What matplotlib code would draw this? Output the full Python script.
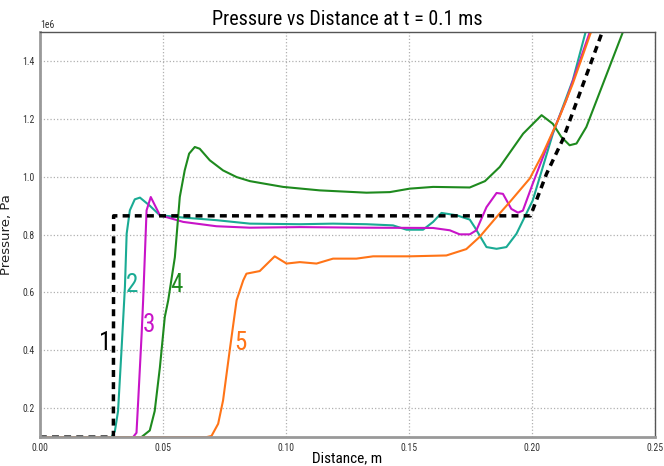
import matplotlib
matplotlib.use("Agg")
import matplotlib.pyplot as plt
import numpy as np

# distance in m, pressure in 1e6 Pa
x1 = [0.0, 0.0299, 0.0300, 0.1995, 0.2060, 0.2127, 0.2295]
p1 = [0.1, 0.1, 0.865, 0.865, 1.01, 1.13, 1.52]

x2 = [0.0, 0.0291, 0.0305, 0.0318, 0.0332, 0.0346, 0.0353, 0.0366, 0.0386, 0.0407,
      0.0447, 0.0488, 0.0583, 0.0718, 0.0854, 0.1057, 0.1192, 0.1328, 0.1436, 0.1491,
      0.1558, 0.1599, 0.1633, 0.1694, 0.1748, 0.1768, 0.1816, 0.1857, 0.1897, 0.1938,
      0.2004, 0.2086, 0.2167, 0.2222]
p2 = [0.1, 0.1, 0.12, 0.19, 0.40, 0.62, 0.803, 0.884, 0.922, 0.928,
      0.900, 0.867, 0.859, 0.850, 0.838, 0.836, 0.838, 0.836, 0.832, 0.817,
      0.817, 0.844, 0.875, 0.867, 0.852, 0.826, 0.757, 0.751, 0.757, 0.803,
      0.918, 1.149, 1.334, 1.51]

x3 = [0.0, 0.0379, 0.0393, 0.0400, 0.0414, 0.0420, 0.0434, 0.0451, 0.0488, 0.0583,
      0.0718, 0.0854, 0.1057, 0.1328, 0.1599, 0.1667, 0.1707, 0.1748, 0.1775, 0.1816,
      0.1857, 0.1883, 0.1917, 0.1944, 0.1964, 0.2004, 0.2072, 0.2140, 0.2240]
p3 = [0.1, 0.1, 0.115, 0.227, 0.458, 0.573, 0.884, 0.930, 0.867, 0.844,
      0.829, 0.824, 0.826, 0.824, 0.823, 0.815, 0.801, 0.801, 0.815, 0.895,
      0.944, 0.941, 0.889, 0.876, 0.883, 0.976, 1.126, 1.264, 1.51]

x4 = [0.0, 0.0413, 0.0447, 0.0467, 0.0488, 0.0508, 0.0522, 0.0549, 0.0569, 0.0589,
      0.0607, 0.0630, 0.0650, 0.0691, 0.0745, 0.0800, 0.0854, 0.0894, 0.0989, 0.1138,
      0.1328, 0.1423, 0.1504, 0.1599, 0.1748, 0.1810, 0.1870, 0.1965, 0.2040, 0.2086,
      0.2120, 0.2154, 0.2182, 0.2222, 0.2290, 0.2375]
p4 = [0.1, 0.1, 0.123, 0.19, 0.34, 0.515, 0.573, 0.722, 0.930, 1.022,
      1.080, 1.103, 1.097, 1.057, 1.022, 0.999, 0.985, 0.979, 0.965, 0.953,
      0.945, 0.947, 0.959, 0.965, 0.963, 0.985, 1.034, 1.149, 1.213, 1.183,
      1.138, 1.109, 1.115, 1.172, 1.322, 1.51]

x5 = [0.0, 0.0678, 0.0698, 0.0725, 0.0745, 0.0772, 0.0800, 0.0827, 0.0840, 0.0894,
      0.0955, 0.1003, 0.1057, 0.1125, 0.1192, 0.1287, 0.1355, 0.1504, 0.1653, 0.1734,
      0.1788, 0.1857, 0.1911, 0.1992, 0.2045, 0.2113, 0.2167, 0.2245]
p5 = [0.1, 0.1, 0.104, 0.146, 0.227, 0.40, 0.573, 0.642, 0.665, 0.674,
      0.725, 0.700, 0.705, 0.700, 0.717, 0.717, 0.725, 0.725, 0.728, 0.750,
      0.792, 0.861, 0.913, 0.994, 1.080, 1.207, 1.322, 1.51]

labels = ["1", "2", "3", "4", "5"]
label_x = [0.0264, 0.0374, 0.0443, 0.0557, 0.0817]
label_p = [0.427, 0.625, 0.486, 0.625, 0.427]

colors = ["black", "#1aab94", "#c814c8", "#1e8a1e", "#ff7417"]
narrow = ["Roboto Condensed", "DejaVu Sans"]

fig = plt.figure(figsize=(6.64, 4.66), dpi=100)
ax = fig.add_axes([0.060, 0.062, 0.926, 0.869])

scale = 1e6
ax.plot(x2, np.array(p2) * scale, color=colors[1], lw=1.5)
ax.plot(x3, np.array(p3) * scale, color=colors[2], lw=1.5)
ax.plot(x4, np.array(p4) * scale, color=colors[3], lw=1.5)
ax.plot(x5, np.array(p5) * scale, color=colors[4], lw=1.5)
ax.plot(x1, np.array(p1) * scale, color=colors[0], lw=2.5, ls=(0, (2, 1.5)))

for lab, lx, lp, c in zip(labels, label_x, label_p, colors):
    ax.text(lx, lp * scale, lab, color=c, fontsize=18, ha="center", va="center",
            family=narrow)

ax.set_xlim(0, 0.25)
ax.set_ylim(0.1e6, 1.5e6)
ax.set_xticks(np.arange(0, 0.26, 0.05))
ax.set_xticklabels([f"{v:.2f}" for v in np.arange(0, 0.26, 0.05)])
ax.set_yticks(np.arange(0.2, 1.41, 0.2) * scale)
ax.grid(True, ls=":", color="#b0b0b0", lw=0.9)
ax.tick_params(length=0, labelsize=7, colors="#333333", pad=4)
for t in ax.get_xticklabels() + ax.get_yticklabels():
    t.set_family(narrow)
ax.yaxis.get_offset_text().set_fontsize(7)
ax.yaxis.get_offset_text().set_family(narrow)

for side in ["left", "bottom"]:
    ax.spines[side].set_color("#999999")
    ax.spines[side].set_linewidth(2)
for side in ["top", "right"]:
    ax.spines[side].set_color("#555555")
    ax.spines[side].set_linewidth(1)

ax.set_title("Pressure vs Distance at t = 0.1 ms", fontsize=14.5, family=narrow, pad=5)
ax.set_xlabel("Distance, m", fontsize=11, family=narrow)
ax.xaxis.set_label_coords(0.5, -0.034)
ax.set_ylabel("Pressure, Pa", fontsize=9.5, color="#222222")
ax.yaxis.set_label_coords(-0.044, 0.5)

fig.savefig("out.png", dpi=100)
